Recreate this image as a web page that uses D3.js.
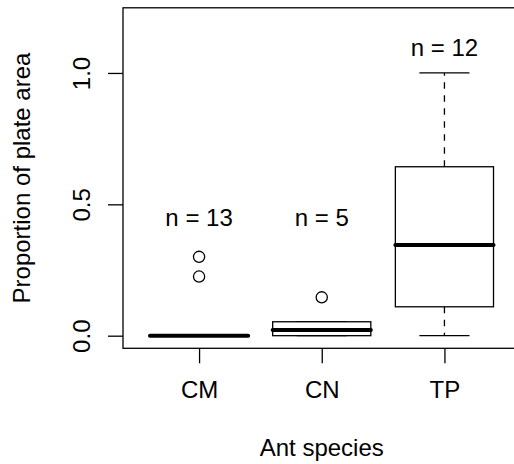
<!DOCTYPE html>
<html><head><meta charset="utf-8">
<script src="https://cdn.jsdelivr.net/npm/d3@7"></script>
<style>
body{margin:0;background:#fff}
svg{display:block}
text{font-family:"Liberation Sans",Arial,Helvetica,sans-serif;fill:#000}
</style>
</head><body><svg id="c" width="514" height="464"></svg>
<script>
// ---- data ----
const species    = ["CM", "CN", "TP"];
const whiskLow   = [0, 0, 0];
const q1         = [0, 0, 0.110];
const medians    = [0, 0.022, 0.345];
const q3         = [0, 0.053, 0.643];
const whiskHigh  = [0, 0.053, 1.0];
const outliers   = [[0.30, 0.225], [0.146], []];
const counts     = [13, 5, 12];
const countLabelY = [0.45, 0.45, 1.1];
const yTicks     = [0, 0.5, 1.0];
const yTickLabels = ["0.0", "0.5", "1.0"];
const xTitle = "Ant species";
const yTitle = "Proportion of plate area";

// ---- layout ----
const W = 514, H = 464;
const plot = {left: 123, top: 7.8, right: 520.5, bottom: 348.3};
const FS = 24, LW = 1.3;

const svg = d3.select("#c");
const x = d3.scaleLinear().domain([0.38, 3.62]).range([plot.left, plot.right]);
const y = d3.scaleLinear().domain([-0.048, 1.248]).range([plot.bottom, plot.top]);

const boxHalf = 0.4, capHalf = 0.2;

// axes (ticks + labels)
const yAxis = d3.axisLeft(y).tickValues(yTicks).tickSize(15).tickSizeOuter(0)
  .tickFormat((d, i) => yTickLabels[i]);
const gy = svg.append("g").attr("transform", `translate(${plot.left},0)`).call(yAxis);
gy.select(".domain").remove();
gy.selectAll(".tick line").attr("stroke", "#000").attr("stroke-width", LW);
gy.selectAll(".tick text")
  .attr("x", 0).attr("y", -33).attr("dy", null)
  .attr("transform", "rotate(-90)")
  .attr("text-anchor", "middle")
  .style("font-size", FS + "px").attr("fill", "#000");

const xAxis = d3.axisBottom(x).tickValues(species.map((d, i) => i + 1)).tickSize(15).tickSizeOuter(0)
  .tickFormat((d, i) => species[i]);
const gx = svg.append("g").attr("transform", `translate(0,${plot.bottom})`).call(xAxis);
gx.select(".domain").remove();
gx.selectAll(".tick line").attr("stroke", "#000").attr("stroke-width", LW);
gx.selectAll(".tick text")
  .attr("y", 50).attr("dy", null)
  .attr("text-anchor", "middle")
  .style("font-size", FS + "px").attr("fill", "#000");

// frame
svg.append("rect")
  .attr("x", plot.left).attr("y", plot.top)
  .attr("width", plot.right - plot.left).attr("height", plot.bottom - plot.top)
  .attr("fill", "none").attr("stroke", "#000").attr("stroke-width", LW);

// boxes
const g = svg.append("g").attr("stroke", "#000").attr("fill", "none").attr("stroke-width", LW);
species.forEach((s, i) => {
  const c = i + 1;
  // whiskers
  if (whiskHigh[i] > q3[i]) {
    g.append("line").attr("x1", x(c)).attr("x2", x(c))
      .attr("y1", y(q3[i])).attr("y2", y(whiskHigh[i]))
      .attr("stroke-dasharray", "6.5,6.5");
  }
  if (whiskLow[i] < q1[i]) {
    g.append("line").attr("x1", x(c)).attr("x2", x(c))
      .attr("y1", y(q1[i])).attr("y2", y(whiskLow[i]))
      .attr("stroke-dasharray", "6.5,6.5");
  }
  // caps
  [whiskLow[i], whiskHigh[i]].forEach(v => {
    g.append("line").attr("x1", x(c - capHalf)).attr("x2", x(c + capHalf))
      .attr("y1", y(v)).attr("y2", y(v)).attr("stroke-linecap", "round");
  });
  // box
  g.append("rect")
    .attr("x", x(c - boxHalf)).attr("width", x(c + boxHalf) - x(c - boxHalf))
    .attr("y", y(q3[i])).attr("height", y(q1[i]) - y(q3[i]))
    .attr("fill", "#fff");
  // median
  g.append("line").attr("x1", x(c - boxHalf)).attr("x2", x(c + boxHalf))
    .attr("y1", y(medians[i])).attr("y2", y(medians[i]))
    .attr("stroke-width", 4).attr("stroke-linecap", "round");
  // outliers
  outliers[i].forEach(v => {
    g.append("circle").attr("cx", x(c)).attr("cy", y(v)).attr("r", 5.6);
  });
  // count label
  svg.append("text").attr("x", x(c)).attr("y", y(countLabelY[i]) + 9)
    .attr("text-anchor", "middle").style("font-size", FS + "px")
    .text("n = " + counts[i]);
});

// titles
svg.append("text").attr("x", (plot.left + plot.right) / 2).attr("y", 456)
  .attr("text-anchor", "middle").style("font-size", FS + "px").text(xTitle);
svg.append("text")
  .attr("transform", `translate(30,${(plot.top + plot.bottom) / 2}) rotate(-90)`)
  .attr("text-anchor", "middle").style("font-size", FS + "px").text(yTitle);
</script>
</body></html>
